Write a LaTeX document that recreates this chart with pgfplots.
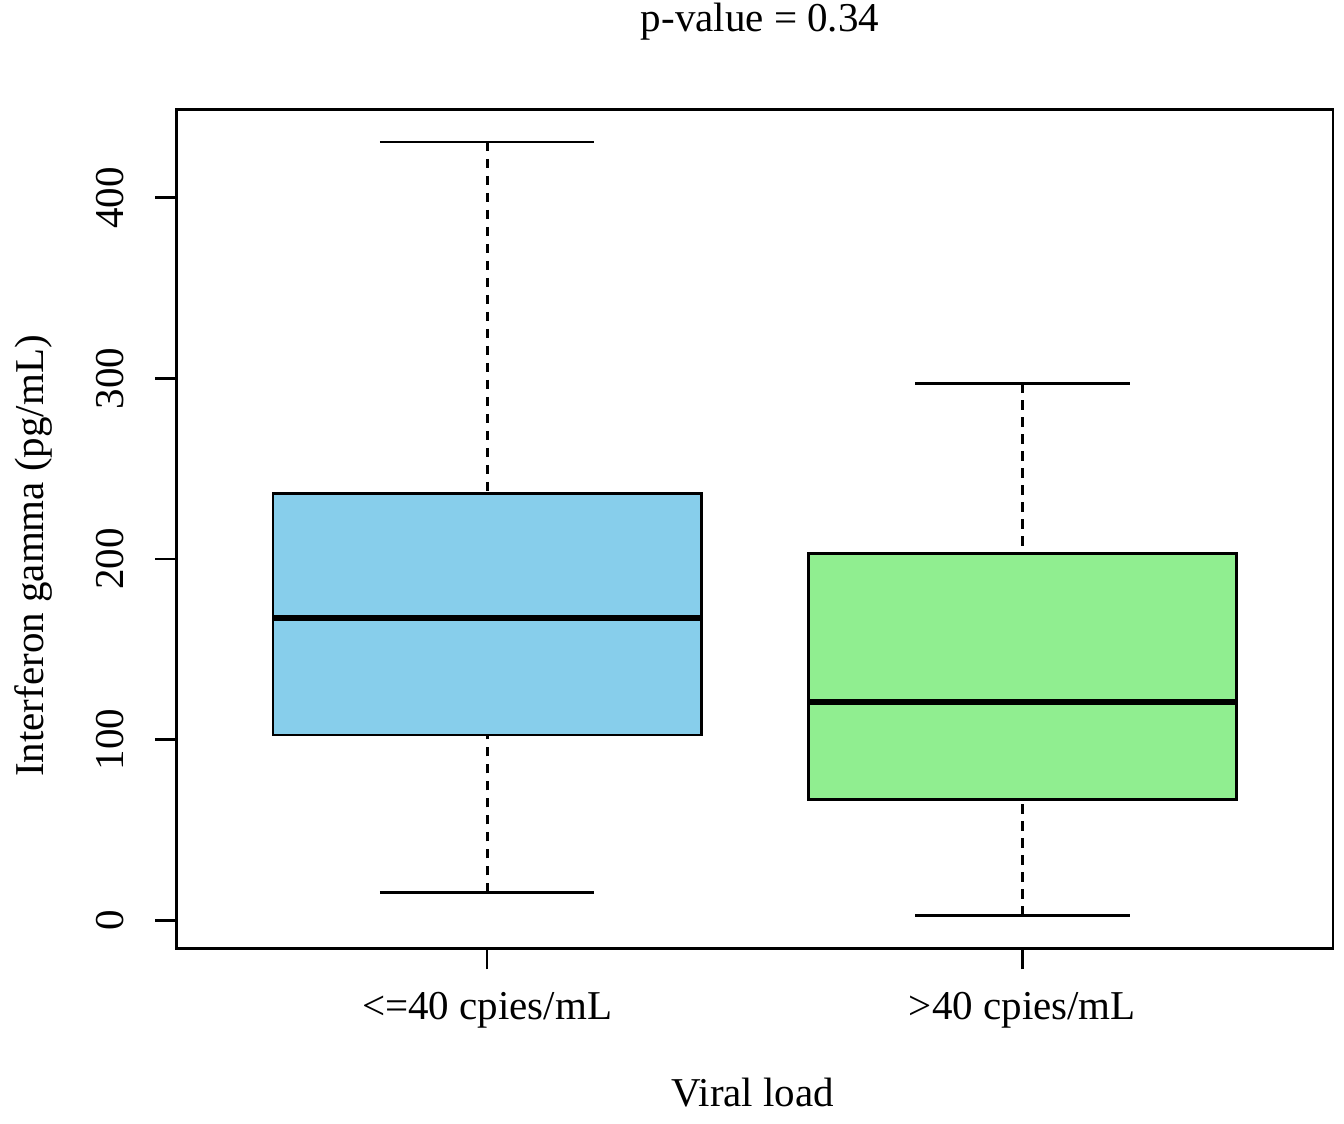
\documentclass[border=0pt]{standalone}
\usepackage{fontspec}
\setmainfont{Liberation Serif}
\usepackage{pgfplots}
\pgfplotsset{compat=1.18}
\definecolor{skyblue}{RGB}{135,206,235}
\definecolor{lightgreen}{RGB}{144,238,144}
\begin{document}
\begin{tikzpicture}[font=\fontsize{20.5}{24}\selectfont]
\path[use as bounding box] (0pt,0pt) rectangle (672pt,562pt);
\begin{axis}[
  at={(88.25pt,87.85pt)}, anchor=south west,
  scale only axis, width=578.25pt, height=419.5pt,
  xmin=0.42, xmax=2.58, ymin=-15.5, ymax=449,
  axis line style={line width=1.4pt},
  xtick={1,2}, xticklabels={{<=40 cpies/mL},{>40 cpies/mL}},
  ytick={0,100,200,300,400},
  tick align=outside, major tick length=10.5pt,
  tick pos=left,
  tick style={line width=1.4pt, black},
  /pgf/number format/assume math mode=true,
  xticklabel style={anchor=base, yshift=-25.1pt},
  yticklabel style={xshift=-15.75pt, rotate=90, anchor=base},
]
% whiskers
\addplot[line width=1.5pt, dash pattern=on 4.7pt off 3.8pt] coordinates {(1,431.0) (1,236.4)};
\addplot[line width=1.5pt, dash pattern=on 4.7pt off 3.8pt] coordinates {(1,15.5) (1,102.6)};
\addplot[line width=1.5pt, dash pattern=on 4.7pt off 3.8pt] coordinates {(2,297.3) (2,203.2)};
\addplot[line width=1.5pt, dash pattern=on 4.7pt off 3.8pt] coordinates {(2,2.5) (2,67.0)};
% caps
\addplot[line width=1.3pt] coordinates {(0.8,431.0) (1.2,431.0)};
\addplot[line width=1.3pt] coordinates {(0.8,15.5) (1.2,15.5)};
\addplot[line width=1.3pt] coordinates {(1.8,297.3) (2.2,297.3)};
\addplot[line width=1.3pt] coordinates {(1.8,2.5) (2.2,2.5)};
% boxes
\addplot[draw=black, line width=1.3pt, fill=skyblue] coordinates {(0.6,102.6) (1.4,102.6) (1.4,236.4) (0.6,236.4)} -- cycle;
\addplot[draw=black, line width=1.3pt, fill=lightgreen] coordinates {(1.6,67.0) (2.4,67.0) (2.4,203.2) (1.6,203.2)} -- cycle;
% medians
\addplot[line width=3pt] coordinates {(0.6,167.2) (1.4,167.2)};
\addplot[line width=3pt] coordinates {(1.6,120.7) (2.4,120.7)};
\end{axis}
\node[anchor=base] at (380pt,546pt) {p-value = 0.34};
\node[anchor=base] at (376.4pt,8.65pt) {Viral load};
\node[rotate=90, anchor=base] at (21.65pt,284pt) {Interferon gamma (pg/mL)};
\end{tikzpicture}
\end{document}
